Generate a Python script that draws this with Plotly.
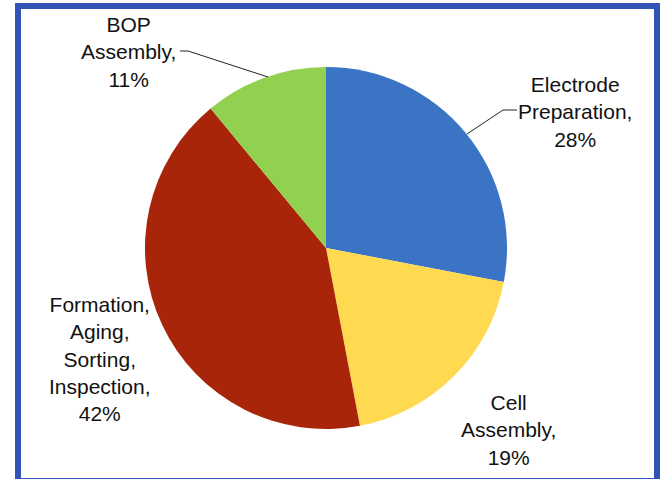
import plotly.graph_objects as go

W, H = 662, 479

# Share of cost by manufacturing step
steps = ["Electrode<br>Preparation,", "Cell<br>Assembly,",
         "Formation,<br>Aging,<br>Sorting,<br>Inspection,", "BOP<br>Assembly,"]
shares = [28, 19, 42, 11]
colors = ["#3B74C4", "#FFD94F", "#A8250A", "#92D14F"]

# label anchor points in pixels (x from left, y from top)
label_pos = [(575, 112), (508, 430), (100, 359), (128, 52)]


def px(x):
    return x / W


def py(y):
    return 1 - y / H


cx, cy, r = 326, 248, 181

fig = go.Figure(go.Pie(
    labels=steps,
    values=shares,
    sort=False,
    direction="clockwise",
    rotation=0,
    marker=dict(colors=colors, line=dict(width=0)),
    textinfo="none",
    hoverinfo="label+percent",
    showlegend=False,
    domain=dict(x=[px(cx - r), px(cx + r)], y=[py(cy + r), py(cy - r)]),
))

for name, val, (lx, ly) in zip(steps, shares, label_pos):
    fig.add_annotation(
        x=px(lx), y=py(ly), xref="paper", yref="paper",
        text=f"{name}<br>{val}%", showarrow=False,
        xanchor="center", yanchor="middle", align="center",
        font=dict(family="Liberation Sans, Arial, sans-serif", size=21, color="#111111"),
    )

# leader lines
leaders = [
    [(467, 134), (503, 110), (517, 110)],
    [(268, 77), (188, 51), (180, 51)],
]
for pts in leaders:
    for (x0, y0), (x1, y1) in zip(pts[:-1], pts[1:]):
        fig.add_shape(type="line", xref="paper", yref="paper",
                      x0=px(x0), y0=py(y0), x1=px(x1), y1=py(y1),
                      line=dict(color="#222222", width=1))

# frame
fig.add_shape(type="rect", xref="paper", yref="paper",
              x0=px(18), x1=px(657), y0=py(6), y1=py(481),
              line=dict(color="#3254B4", width=6), fillcolor="rgba(0,0,0,0)")

fig.update_layout(
    width=W, height=H,
    margin=dict(l=0, r=0, t=0, b=0),
    paper_bgcolor="white",
    plot_bgcolor="white",
)

fig.write_html("out.html")
